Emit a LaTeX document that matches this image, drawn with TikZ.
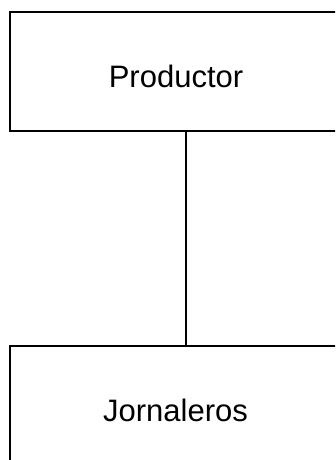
\documentclass[tikz,border=0pt]{standalone}
\usepackage{fontspec}
\setmainfont{Liberation Sans}
\begin{document}
\begin{tikzpicture}[x=1pt,y=1pt,
  boxst/.style={draw=black, line width=2pt, minimum width=332pt, inner sep=0pt},
  lbl/.style={anchor=base, inner sep=0pt, font=\fontsize{31}{36}\selectfont},
  conn/.style={draw=black, line width=2pt}]
\useasboundingbox (0,0) rectangle (335,460);
\clip (0,0) rectangle (335,460);
\node[boxst, minimum height=119pt] (top) at (176,388.5) {};
\node[boxst, minimum height=130pt] (bot) at (176,49) {};
\node[lbl] (tprod) at (176,372) {Productor};
\node[lbl] (tjorn) at (175.5,38) {Jornaleros};
\draw[conn] ([xshift=10pt]top.south) -- ([xshift=10pt]bot.north);
\end{tikzpicture}
\end{document}
